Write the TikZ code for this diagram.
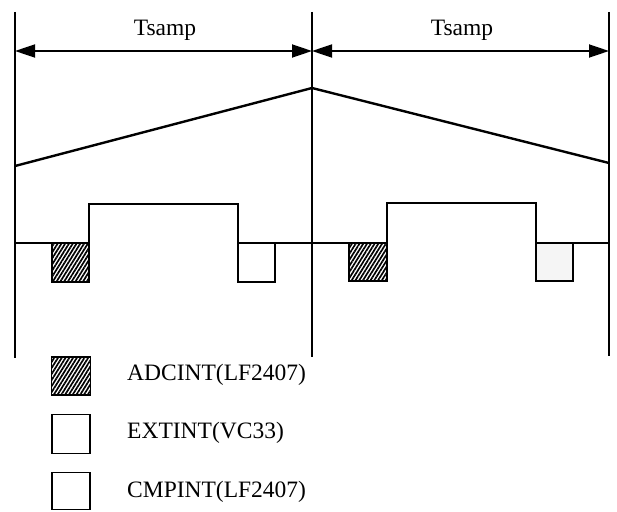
\documentclass[tikz,border=0pt]{standalone}
\usepackage{fontspec}
\setmainfont{Liberation Serif}
\usetikzlibrary{arrows.meta,patterns.meta}
\begin{document}
\begin{tikzpicture}[x=1pt,y=-1pt,
  wire/.style={line width=2.4pt},
  thin wire/.style={line width=1.8pt},
  dim/.style={line width=1.8pt,{Triangle[length=20pt,width=13pt]}-{Triangle[length=20pt,width=13pt]}},
  lbl/.style={font=\fontsize{23.5}{28}\selectfont,inner sep=0pt},
  hatchbox/.style={draw,line width=1.8pt,pattern={Lines[angle=58,distance=3.2pt,line width=1.7pt]}},
  whitebox/.style={draw,line width=1.8pt,fill=white},
  cmpbox/.style={draw,line width=1.8pt,fill=black!4}]
\useasboundingbox (0,0) rectangle (617,511);
% time markers
\coordinate (L0) at (15,12);   \coordinate (L1) at (15,358);
\coordinate (M0) at (312,12);  \coordinate (M1) at (312,357);
\coordinate (R0) at (609,12);  \coordinate (R1) at (609,356);
\draw[thin wire] (L0) -- (L1);
\draw[thin wire] (M0) -- (M1);
\draw[thin wire] (R0) -- (R1);
% Tsamp dimensions
\coordinate (A0) at (15,51); \coordinate (A1) at (312,51); \coordinate (A2) at (609,51);
\draw[dim] (A0) -- (A1);
\draw[dim] (A1) -- (A2);
\node[lbl,anchor=base] (t1) at (165,35) {Tsamp};
\node[lbl,anchor=base] (t2) at (462,35) {Tsamp};
% triangle carrier
\coordinate (C0) at (15,166); \coordinate (C1) at (312,88); \coordinate (C2) at (609,163);
\draw[wire] (C0) -- (C1) -- (C2);
% boxes
\draw[hatchbox] (52,243) rectangle (89,282);
\draw[whitebox] (238,243) rectangle (275,282);
\draw[hatchbox] (349,243) rectangle (387,281);
\draw[cmpbox] (536,243) rectangle (573,281);
% pulse train / baseline
\draw[thin wire] (15,243) -- (89,243) -- (89,204) -- (238,204) -- (238,243) -- (387,243) -- (387,203) -- (536,203) -- (536,243) -- (609,243);
% legend
\node[hatchbox,minimum width=39pt,minimum height=38pt,inner sep=0pt] (k1) at (71,376) {};
\node[lbl,anchor=west] (k1t) at (127,375) {ADCINT(LF2407)};
\node[whitebox,minimum width=38pt,minimum height=39pt,inner sep=0pt] (k2) at (71,434) {};
\node[lbl,anchor=west] (k2t) at (127,433) {EXTINT(VC33)};
\node[whitebox,minimum width=38pt,minimum height=37pt,inner sep=0pt] (k3) at (71,491) {};
\node[lbl,anchor=west] (k3t) at (127,492) {CMPINT(LF2407)};
\end{tikzpicture}
\end{document}
